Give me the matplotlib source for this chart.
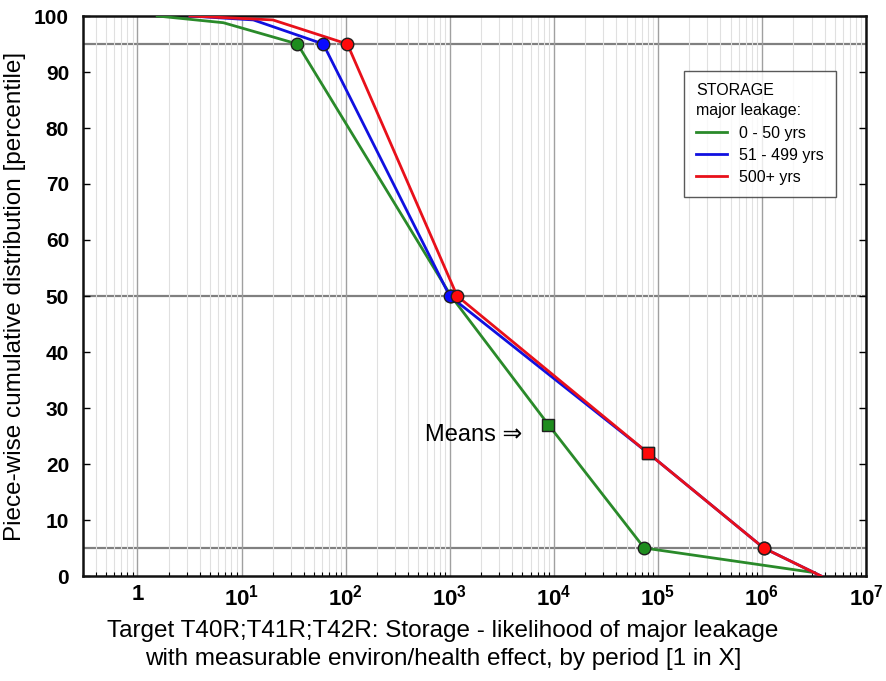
import matplotlib
matplotlib.use("Agg")
import matplotlib.pyplot as plt
import numpy as np
from matplotlib.ticker import LogLocator, NullFormatter, FixedLocator

plt.rcParams['font.family'] = ['Liberation Sans', 'DejaVu Sans']
plt.rcParams['mathtext.fontset'] = 'custom'
plt.rcParams['mathtext.bf'] = 'Liberation Sans:bold'
plt.rcParams['mathtext.rm'] = 'Liberation Sans'

# ---- data ----
green_x = [1.55, 6.7, 34.5, 1030, 8.9e3, 7.4e4, 3.2e6]
green_y = [100, 98.8, 95, 50, 27, 5, 0.6]
blue_x = [3.2, 13, 61, 1000, 8.0e4, 1.04e6, 3.7e6]
blue_y = [100, 99.3, 95, 50, 22, 5, 0]
red_x = [3.2, 20, 104, 1180, 8.0e4, 1.04e6, 3.7e6]
red_y = [100, 99.3, 95, 50, 22, 5, 0]

# percentile markers (circles) and means (squares)
green_pct_x = [34.5, 1030, 7.4e4]
green_pct_y = [95, 50, 5]
blue_pct_x = [61, 1000, 1.04e6]
blue_pct_y = [95, 50, 5]
red_pct_x = [104, 1180, 1.04e6]
red_pct_y = [95, 50, 5]
green_mean = (8.9e3, 27)
blue_mean = (8.0e4, 22)
red_mean = (8.0e4, 22)

series_labels = ['0 - 50 yrs', '51 - 499 yrs', '500+ yrs']
xtick_vals = [1, 10, 100, 1e3, 1e4, 1e5, 1e6, 1e7]
xtick_labels = ['1', r'$\mathbf{10^{1}}$', r'$\mathbf{10^{2}}$', r'$\mathbf{10^{3}}$',
                r'$\mathbf{10^{4}}$', r'$\mathbf{10^{5}}$', r'$\mathbf{10^{6}}$', r'$\mathbf{10^{7}}$']
ytick_vals = list(range(0, 101, 10))
ref_lines = [5, 50, 95]

# ---- plot ----
fig = plt.figure(figsize=(8.86, 6.81), dpi=100)
ax = fig.add_axes([83/886, 1 - 576/681, (866-83)/886, (576-16)/681])
ax.set_xscale('log')
ax.set_xlim(0.3, 1e7)
ax.set_ylim(0, 100)

# grid
ax.xaxis.set_major_locator(FixedLocator(xtick_vals))
ax.xaxis.set_minor_locator(LogLocator(base=10, subs=np.arange(2, 10), numticks=20))
ax.xaxis.set_minor_formatter(NullFormatter())
ax.grid(which='minor', axis='x', color='#e0e0e0', lw=0.8)
ax.grid(which='major', axis='x', color='#a0a0a0', lw=1.0)
for r in ref_lines:
    ax.axhline(r, color='#808080', lw=1.6, zorder=1)

cols = {'g': '#2a8a2a', 'b': '#1010e0', 'r': '#e8101a'}
mcols = {'g': '#1e8c1e', 'b': '#0a0aff', 'r': '#ff0a0a'}

ax.plot(green_x, green_y, color=cols['g'], lw=2, label=series_labels[0], zorder=3)
ax.plot(blue_x, blue_y, color=cols['b'], lw=2, label=series_labels[1], zorder=4)
ax.plot(red_x, red_y, color=cols['r'], lw=2, label=series_labels[2], zorder=5)

ax.plot(green_pct_x, green_pct_y, 'o', ms=9, mfc=mcols['g'], mec='#202020', mew=1, ls='none', zorder=6)
ax.plot(blue_pct_x, blue_pct_y, 'o', ms=9, mfc=mcols['b'], mec='#202020', mew=1, ls='none', zorder=7)
ax.plot(red_pct_x, red_pct_y, 'o', ms=9, mfc=mcols['r'], mec='#202020', mew=1, ls='none', zorder=8)
ax.plot(*green_mean, 's', ms=8.5, mfc=mcols['g'], mec='#202020', mew=1, zorder=6)
ax.plot(*blue_mean, 's', ms=8.5, mfc=mcols['b'], mec='#202020', mew=1, zorder=7)
ax.plot(*red_mean, 's', ms=8.5, mfc=mcols['r'], mec='#202020', mew=1, zorder=8)

# ticks
ax.set_xticks(xtick_vals)
ax.set_xticklabels(xtick_labels)
ax.set_yticks(ytick_vals)
ax.tick_params(axis='both', which='major', direction='in', length=5, width=1,
               labelsize=15, top=False, right=True)
ax.tick_params(axis='y', which='major', pad=10)
ax.tick_params(axis='x', which='minor', direction='in', length=3, width=0.8)
ax.tick_params(axis='x', which='major', length=0, pad=6, labelsize=16)
for lab in ax.get_yticklabels() + ax.get_xticklabels():
    lab.set_fontweight('bold')

for sp in ax.spines.values():
    sp.set_linewidth(1.8)
    sp.set_color('#111111')

ax.set_ylabel('Piece-wise cumulative distribution [percentile]', fontsize=17.5, labelpad=6)
ax.set_xlabel('Target T40R;T41R;T42R: Storage - likelihood of major leakage\n'
              'with measurable environ/health effect, by period [1 in X]',
              fontsize=17.5, labelpad=10, linespacing=1.35)
ax.xaxis.set_label_coords((443 - 83) / 783, -0.079, transform=ax.transAxes)
ax.xaxis.label.set_va('top')

ax.text(5.0e3, 25.2, 'Means \u21d2', fontsize=17, ha='right', va='center', zorder=9)

leg = ax.legend(loc='upper left', bbox_to_anchor=(0.7676, 0.9018), frameon=True,
                fancybox=False, edgecolor='#303030', fontsize=11.5,
                title='STORAGE\nmajor leakage:', title_fontsize=11.5,
                handlelength=1.95, handletextpad=0.75, borderpad=0.75,
                labelspacing=0.45, borderaxespad=0)
leg._legend_box.align = 'left'
leg.get_title().set_linespacing(1.45)
leg.get_frame().set_linewidth(1.0)

fig.savefig('out.png', dpi=100)
